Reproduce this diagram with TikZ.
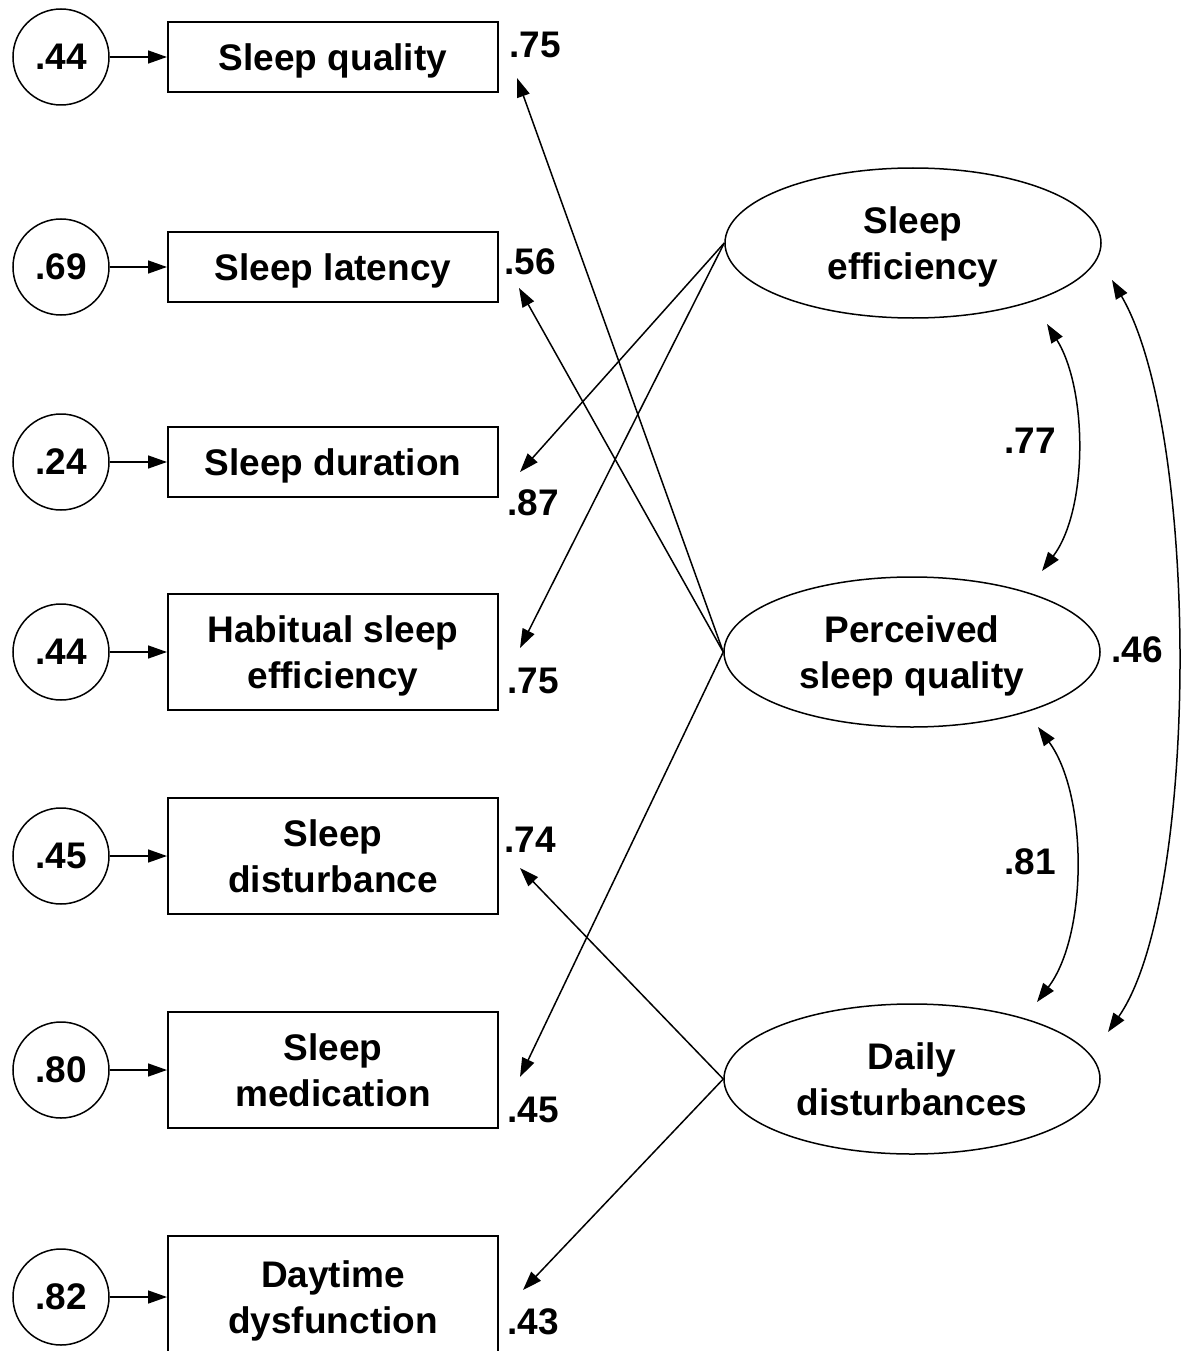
\documentclass[tikz,border=0pt]{standalone}
\usepackage{fontspec}
\setmainfont{Liberation Sans}
\usetikzlibrary{arrows.meta,shapes.geometric}
\tikzset{
  base/.style={font=\fontsize{37}{46}\selectfont\bfseries, text=black, align=center},
  obs/.style={base, draw, line width=2pt, minimum width=330pt, inner sep=0pt, text depth=0pt},
  err/.style={base, draw, circle, line width=1.5pt, minimum size=96pt, inner sep=0pt},
  lat/.style={base, draw, ellipse, line width=1.5pt, minimum width=376pt, minimum height=150pt, inner sep=0pt, text depth=0pt},
  lbl/.style={base, inner sep=0pt},
  tip/.tip={Triangle[length=19pt,width=13pt]},
  arr/.style={line width=1.5pt, -tip},
  cov/.style={line width=1.5pt, tip-tip},
}
\begin{document}
\begin{tikzpicture}[x=1pt,y=-1pt]
\useasboundingbox (0,0) rectangle (1181,1351);
\clip (0,0) rectangle (1181,1351);
\fill[white] (0,0) rectangle (1181,1351);

% observed indicators
\node[obs, minimum height=70pt]  (b1) at (333,57)   {Sleep quality};
\node[obs, minimum height=70pt]  (b2) at (333,267)  {Sleep latency};
\node[obs, minimum height=70pt]  (b3) at (333,462)  {Sleep duration};
\node[obs, minimum height=116pt] (b4) at (333,652)  {Habitual sleep\\efficiency};
\node[obs, minimum height=116pt] (b5) at (333,856)  {Sleep\\disturbance};
\node[obs, minimum height=116pt] (b6) at (333,1070) {Sleep\\medication};
\node[obs, minimum height=122pt] (b7) at (333,1297) {Daytime\\dysfunction};

% error terms
\node[err] (e1) at (61,57)   {.44};
\node[err] (e2) at (61,267)  {.69};
\node[err] (e3) at (61,462)  {.24};
\node[err] (e4) at (61,652)  {.44};
\node[err] (e5) at (61,856)  {.45};
\node[err] (e6) at (61,1070) {.80};
\node[err] (e7) at (61,1297) {.82};

\foreach \i in {1,...,7} {\draw[arr] (e\i) -- (b\i);}

% latent factors
\node[lat] (se)  at (913,243)  {Sleep\\efficiency};
\node[lat] (psq) at (912,652)  {Perceived\\sleep quality};
\node[lat] (dd)  at (912,1079) {Daily\\disturbances};

% loading arrow ends
\coordinate (t1) at (517,78);
\coordinate (t2) at (519,288);
\coordinate (t3) at (520,472);
\coordinate (t4) at (520,648);
\coordinate (t5) at (520,868);
\coordinate (t6) at (520,1077);
\coordinate (t7) at (523,1290);

\draw[arr] (psq.west) -- (t1);
\draw[arr] (psq.west) -- (t2);
\draw[arr] (se.west)  -- (t3);
\draw[arr] (se.west)  -- (t4);
\draw[arr] (dd.west)  -- (t5);
\draw[arr] (psq.west) -- (t6);
\draw[arr] (dd.west)  -- (t7);

% loading labels
\node[lbl] (l1) at (535,45)   {.75};
\node[lbl] (l2) at (530,262)  {.56};
\node[lbl] (l3) at (533,503)  {.87};
\node[lbl] (l4) at (533,681)  {.75};
\node[lbl] (l5) at (530,840)  {.74};
\node[lbl] (l6) at (533,1110) {.45};
\node[lbl] (l7) at (533,1322) {.43};

% covariances
\coordinate (c1a) at (1047,324);
\coordinate (c1b) at (1042,571);
\coordinate (c2a) at (1038,727);
\coordinate (c2b) at (1037,1002);
\coordinate (c3a) at (1112,280);
\coordinate (c3b) at (1108,1032);

\draw[cov] (c1a) .. controls (1088,390) and (1088,510) .. (c1b);
\draw[cov] (c2a) .. controls (1088,795) and (1088,935) .. (c2b);
\draw[cov] (c3a) .. controls (1200,430) and (1200,900) .. (c3b);

\node[lbl] (k1) at (1030,441)  {.77};
\node[lbl] (k2) at (1030,862)  {.81};
\node[lbl] (k3) at (1137,650)  {.46};
\end{tikzpicture}
\end{document}
